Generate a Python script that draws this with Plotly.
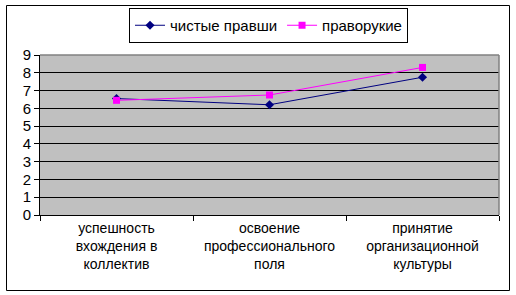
import plotly.graph_objects as go

categories = ["успешность<br>вхождения в<br>коллектив",
              "освоение<br>профессионального<br>поля",
              "принятие<br>организационной<br>культуры"]
series_names = ["чистые правши", "праворукие"]
pure_right = [6.55, 6.2, 7.75]
right_handed = [6.45, 6.75, 8.3]
y_ticks = [0, 1, 2, 3, 4, 5, 6, 7, 8, 9]

L, R, T, B = 40, 17, 55, 80
W, H = 516, 295
pw, ph = W - L - R, H - T - B

def px_x(px):
    return (px - L) / pw

def px_y(py):
    return (H - B - py) / ph

fig = go.Figure()
fig.add_trace(go.Scatter(x=categories, y=pure_right, name=series_names[0], mode="lines+markers",
                         line=dict(color="#000080", width=1),
                         marker=dict(symbol="diamond", size=7, color="#000080")))
fig.add_trace(go.Scatter(x=categories, y=right_handed, name=series_names[1], mode="lines+markers",
                         line=dict(color="#FF00FF", width=1),
                         marker=dict(symbol="square", size=7, color="#FF00FF")))

fig.update_layout(
    width=W, height=H,
    margin=dict(l=L, r=R, t=T, b=B, autoexpand=False),
    paper_bgcolor="white", plot_bgcolor="#C0C0C0",
    font=dict(family="Liberation Sans, Arial", size=14, color="black"),
    showlegend=True,
    legend=dict(orientation="h", x=px_x(268.5), xanchor="center", y=px_y(8), yanchor="top",
                bordercolor="black", borderwidth=1, bgcolor="white",
                font=dict(size=15), itemwidth=30, tracegroupgap=0),
    xaxis=dict(type="category", range=[-0.5, 2.5], tickson="boundaries", ticks="outside", ticklen=5,
               tickcolor="black", showline=True, linecolor="black", linewidth=1,
               showgrid=False, zeroline=False, tickfont=dict(size=14), automargin=False),
    yaxis=dict(range=[0, 9], tickvals=y_ticks, ticks="outside", ticklen=5, tickcolor="black",
               showline=True, linecolor="black", linewidth=1,
               showgrid=True, gridcolor="black", gridwidth=1, zeroline=False,
               tickfont=dict(size=15), automargin=False),
    shapes=[
        dict(type="line", xref="paper", yref="paper", x0=0, x1=1, y0=1, y1=1,
             line=dict(color="#808080", width=1.5)),
        dict(type="line", xref="paper", yref="paper", x0=1, x1=1, y0=0, y1=1,
             line=dict(color="#808080", width=1.5)),
        dict(type="rect", xref="paper", yref="paper", x0=px_x(6.5), x1=px_x(509.5),
             y0=px_y(290.5), y1=px_y(5.5), line=dict(color="black", width=1)),
    ],
)

fig.write_html("out.html", config={"displayModeBar": False},
               post_script="document.body.style.margin='0';")
